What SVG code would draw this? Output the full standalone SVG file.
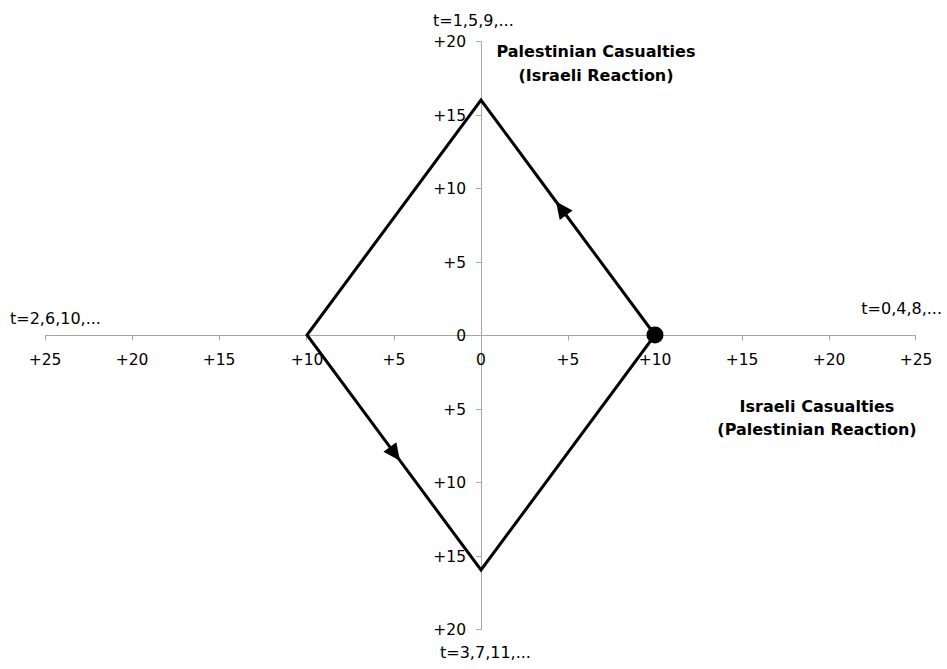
<svg xmlns="http://www.w3.org/2000/svg" width="947" height="669" viewBox="0 0 947 669">
<style>
.axis{stroke:#a6a6a6;stroke-width:1;fill:none}
.lbl{font-family:"DejaVu Sans",Verdana,sans-serif;font-size:15.5px;fill:#000}
.tl{font-family:"DejaVu Sans",Verdana,sans-serif;font-size:16px;fill:#000}
.ttl{font-family:"DejaVu Sans",Verdana,sans-serif;font-size:16px;font-weight:bold;fill:#000;text-anchor:middle}
.edge{stroke:#000;stroke-width:3;fill:none;stroke-linejoin:miter}
.xl{text-anchor:middle}
.yl{text-anchor:end}
</style>
<defs>
<marker id="arr" markerUnits="userSpaceOnUse" markerWidth="20" markerHeight="20" viewBox="0 -10 20 20" refX="17" refY="0" orient="auto" overflow="visible">
<path d="M0,-8 L17,0 L0,8 z" fill="#000"/>
</marker>
</defs>
<rect width="947" height="669" fill="#fff"/>
<g id="axes">
<line class="axis" x1="45" y1="335.5" x2="916" y2="335.5"/>
<line class="axis" x1="481.5" y1="41.5" x2="481.5" y2="629.5"/>
<path class="axis" d="M45.5,335.5v5M132.5,335.5v5M219.5,335.5v5M306.5,335.5v5M394.5,335.5v5M481.5,335.5v5M568.5,335.5v5M655.5,335.5v5M742.5,335.5v5M829.5,335.5v5M915.5,335.5v5"/>
<path class="axis" d="M476,41.5h5.5M476,115.5h5.5M476,188.5h5.5M476,262.5h5.5M476,335.5h5.5M476,409.5h5.5M476,482.5h5.5M476,556.5h5.5M476,629.5h5.5"/>
</g>
<g id="x-labels" class="lbl xl">
<text x="45" y="365">+25</text>
<text x="132" y="365">+20</text>
<text x="219" y="365">+15</text>
<text x="307" y="365">+10</text>
<text x="394" y="365">+5</text>
<text x="481" y="365">0</text>
<text x="568" y="365">+5</text>
<text x="655" y="365">+10</text>
<text x="742" y="365">+15</text>
<text x="829" y="365">+20</text>
<text x="916" y="365">+25</text>
</g>
<g id="y-labels" class="lbl yl">
<text x="466" y="47">+20</text>
<text x="466" y="121">+15</text>
<text x="466" y="194">+10</text>
<text x="466" y="268">+5</text>
<text x="466" y="341">0</text>
<text x="466" y="415">+5</text>
<text x="466" y="488">+10</text>
<text x="466" y="562">+15</text>
<text x="466" y="635">+20</text>
</g>
<g id="t-labels" class="tl">
<text x="433" y="26">t=1,5,9,...</text>
<text x="10" y="324">t=2,6,10,...</text>
<text x="942" y="314" text-anchor="end">t=0,4,8,...</text>
<text x="440" y="658">t=3,7,11,...</text>
</g>
<g id="title-palestinian" class="ttl">
<text x="596" y="57">Palestinian Casualties</text>
<text x="596" y="81">(Israeli Reaction)</text>
</g>
<g id="title-israeli" class="ttl">
<text x="817" y="412">Israeli Casualties</text>
<text x="817" y="435">(Palestinian Reaction)</text>
</g>
<g id="connectors">
<path class="edge" d="M556,201.5 L481,100 L307,335 L400,460.7" />
<path class="edge" d="M400,460.7 L481,570 L655,335 L556,201.5"/>
<path d="M655,335 L556,201.5" stroke="none" fill="none" marker-end="url(#arr)"/>
<path d="M307,335 L400,460.7" stroke="none" fill="none" marker-end="url(#arr)"/>
</g>
<g id="start-point">
<circle cx="655" cy="335" r="8.5" fill="#000"/>
</g>
</svg>
